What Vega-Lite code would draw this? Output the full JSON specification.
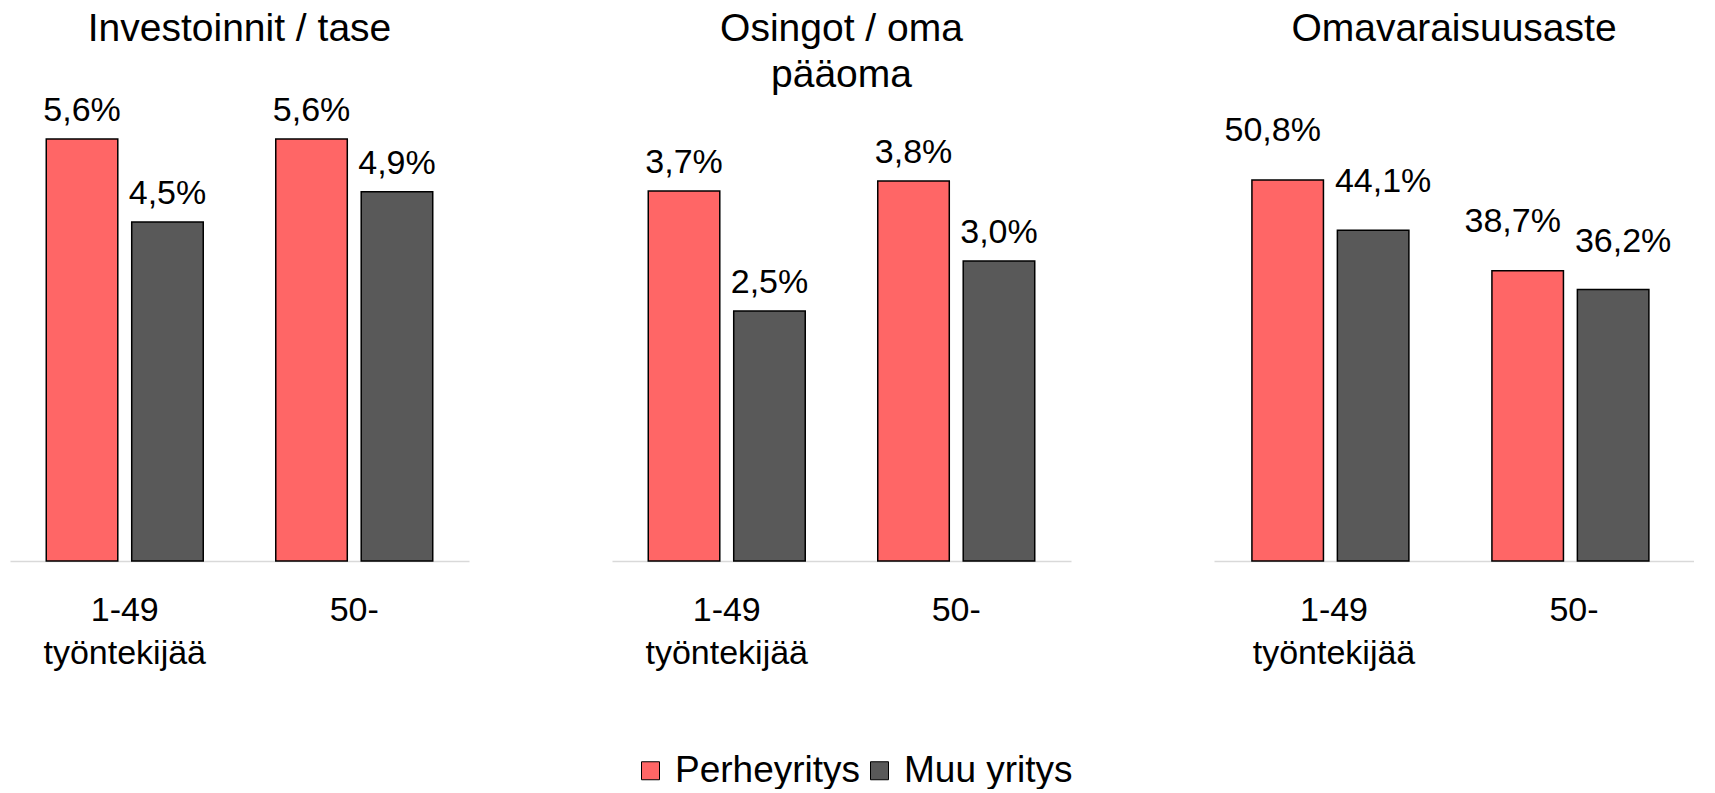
{
  "$schema": "https://vega.github.io/schema/vega-lite/v6.json",
  "background": "white",
  "padding": {"left": 10, "top": 10, "right": 0, "bottom": 0},
  "config": {
    "locale": {"number": {"decimal": ",", "thousands": "\u00a0", "grouping": [3], "currency": ["", " €"]}},
    "font": "Liberation Sans",
    "view": {"stroke": null},
    "title": {"fontSize": 39, "font": "Liberation Sans", "fontWeight": "normal", "color": "black", "offset": -14, "anchor": "middle", "lineHeight": 46},
    "axis": {"domainColor": "#D9D9D9", "domainWidth": 1.5, "ticks": false, "labelFontSize": 34, "labelColor": "black", "labelPadding": 32, "labelAngle": 0, "labelBaseline": "top", "labelLineHeight": 43, "labelFont": "Liberation Sans", "title": null},
    "legend": {"orient": "bottom", "direction": "horizontal", "title": null, "labelFontSize": 37, "labelFont": "Liberation Sans", "labelColor": "black", "labelLimit": 500, "symbolType": "square", "symbolSize": 324, "symbolStrokeColor": "black", "symbolStrokeWidth": 1, "labelOffset": 6, "columnPadding": 0, "offset": 82, "layout": {"bottom": {"anchor": "middle"}}}
  },
  "datasets": {
    "d": [
      {"mittari": "Investoinnit / tase", "koko": "1-49 työntekijää", "yritys": "Perheyritys", "arvo": 0.056},
      {"mittari": "Investoinnit / tase", "koko": "1-49 työntekijää", "yritys": "Muu yritys", "arvo": 0.045},
      {"mittari": "Investoinnit / tase", "koko": "50-", "yritys": "Perheyritys", "arvo": 0.056},
      {"mittari": "Investoinnit / tase", "koko": "50-", "yritys": "Muu yritys", "arvo": 0.049},
      {"mittari": "Osingot / oma pääoma", "koko": "1-49 työntekijää", "yritys": "Perheyritys", "arvo": 0.037},
      {"mittari": "Osingot / oma pääoma", "koko": "1-49 työntekijää", "yritys": "Muu yritys", "arvo": 0.025},
      {"mittari": "Osingot / oma pääoma", "koko": "50-", "yritys": "Perheyritys", "arvo": 0.038},
      {"mittari": "Osingot / oma pääoma", "koko": "50-", "yritys": "Muu yritys", "arvo": 0.030},
      {"mittari": "Omavaraisuusaste", "koko": "1-49 työntekijää", "yritys": "Perheyritys", "arvo": 0.508},
      {"mittari": "Omavaraisuusaste", "koko": "1-49 työntekijää", "yritys": "Muu yritys", "arvo": 0.441},
      {"mittari": "Omavaraisuusaste", "koko": "50-", "yritys": "Perheyritys", "arvo": 0.387},
      {"mittari": "Omavaraisuusaste", "koko": "50-", "yritys": "Muu yritys", "arvo": 0.362}
    ]
  },
  "data": {"name": "d"},
  "spacing": 143,
  "bounds": "flush",
  "resolve": {"scale": {"y": "independent", "color": "shared"}},
  "hconcat": [
    {
      "width": 459, "height": 480,
      "title": {"text": ["Investoinnit / tase", " "]},
      "transform": [{"filter": "datum.mittari == 'Investoinnit / tase'"}],
      "encoding": {
        "x": {"field": "koko", "type": "nominal", "sort": ["1-49 työntekijää", "50-"], "scale": {"paddingInner": 0.316, "paddingOuter": 0.158}, "axis": {"labelExpr": "datum.value == '50-' ? '50-' : ['1-49', 'työntekijää']"}},
        "xOffset": {"field": "yritys", "type": "nominal", "sort": ["Perheyritys", "Muu yritys"], "scale": {"paddingInner": 0.163, "paddingOuter": 0}},
        "y": {"field": "arvo", "type": "quantitative", "scale": {"domain": [0, 0.0637]}, "axis": null}
      },
      "layer": [
        {"mark": {"type": "bar", "stroke": "black", "strokeWidth": 1.5}, "encoding": {"color": {"field": "yritys", "type": "nominal", "scale": {"domain": ["Perheyritys", "Muu yritys"], "range": ["#FF6666", "#595959"]}}}},
        {"mark": {"type": "text", "dy": -18, "baseline": "alphabetic", "fontSize": 34, "color": "black"}, "encoding": {"text": {"field": "arvo", "type": "quantitative", "format": ".1%"}}}
      ]
    },
    {
      "width": 459, "height": 480,
      "title": {"text": ["Osingot / oma", "pääoma"]},
      "transform": [{"filter": "datum.mittari == 'Osingot / oma pääoma'"}],
      "encoding": {
        "x": {"field": "koko", "type": "nominal", "sort": ["1-49 työntekijää", "50-"], "scale": {"paddingInner": 0.316, "paddingOuter": 0.158}, "axis": {"labelExpr": "datum.value == '50-' ? '50-' : ['1-49', 'työntekijää']"}},
        "xOffset": {"field": "yritys", "type": "nominal", "sort": ["Perheyritys", "Muu yritys"], "scale": {"paddingInner": 0.163, "paddingOuter": 0}},
        "y": {"field": "arvo", "type": "quantitative", "scale": {"domain": [0, 0.048]}, "axis": null}
      },
      "layer": [
        {"mark": {"type": "bar", "stroke": "black", "strokeWidth": 1.5}, "encoding": {"color": {"field": "yritys", "type": "nominal", "scale": {"domain": ["Perheyritys", "Muu yritys"], "range": ["#FF6666", "#595959"]}}}},
        {"mark": {"type": "text", "dy": -18, "baseline": "alphabetic", "fontSize": 34, "color": "black"}, "encoding": {"text": {"field": "arvo", "type": "quantitative", "format": ".1%"}}}
      ]
    },
    {
      "width": 480, "height": 480,
      "title": {"text": ["Omavaraisuusaste", " "]},
      "transform": [{"filter": "datum.mittari == 'Omavaraisuusaste'"}],
      "encoding": {
        "x": {"field": "koko", "type": "nominal", "sort": ["1-49 työntekijää", "50-"], "scale": {"paddingInner": 0.316, "paddingOuter": 0.158}, "axis": {"labelExpr": "datum.value == '50-' ? '50-' : ['1-49', 'työntekijää']"}},
        "xOffset": {"field": "yritys", "type": "nominal", "sort": ["Perheyritys", "Muu yritys"], "scale": {"paddingInner": 0.163, "paddingOuter": 0}},
        "y": {"field": "arvo", "type": "quantitative", "scale": {"domain": [0, 0.64]}, "axis": null}
      },
      "layer": [
        {"mark": {"type": "bar", "stroke": "black", "strokeWidth": 1.5}, "encoding": {"color": {"field": "yritys", "type": "nominal", "scale": {"domain": ["Perheyritys", "Muu yritys"], "range": ["#FF6666", "#595959"]}}}},
        {"transform": [{"filter": "datum.yritys == 'Perheyritys'"}], "mark": {"type": "text", "dy": -39, "dx": -15, "baseline": "alphabetic", "fontSize": 34, "color": "black"}, "encoding": {"text": {"field": "arvo", "type": "quantitative", "format": ".1%"}}},
        {"transform": [{"filter": "datum.yritys == 'Muu yritys'"}], "mark": {"type": "text", "dy": -38, "dx": 10, "baseline": "alphabetic", "fontSize": 34, "color": "black"}, "encoding": {"text": {"field": "arvo", "type": "quantitative", "format": ".1%"}}}
      ]
    }
  ]
}
